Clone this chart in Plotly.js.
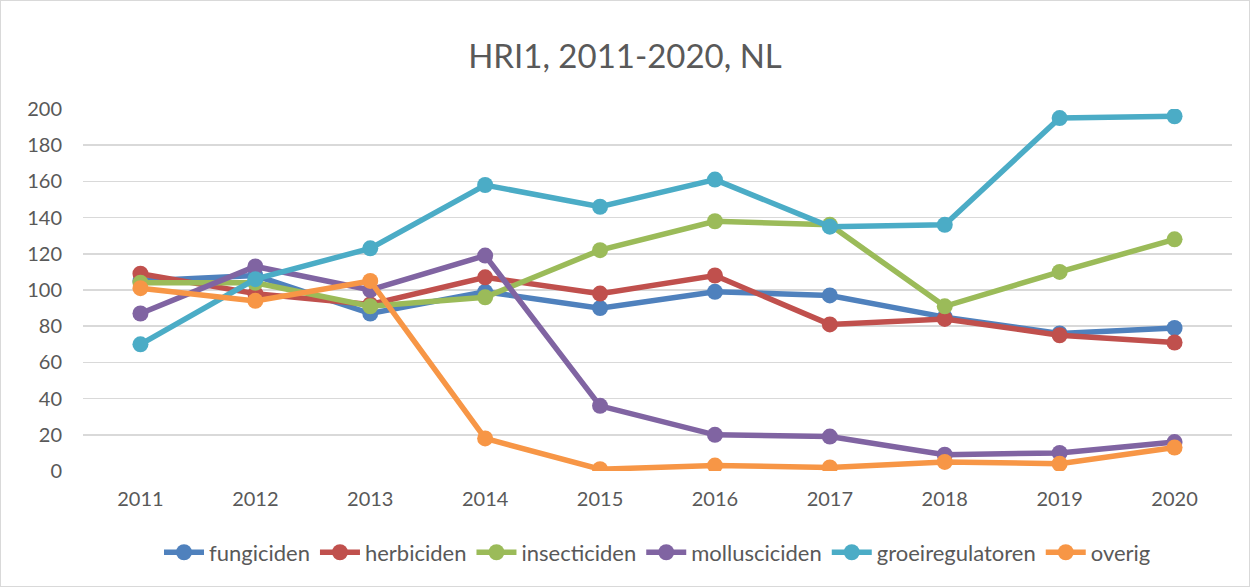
<!DOCTYPE html>
<html><head><meta charset="utf-8">
<script src="https://cdn.plot.ly/plotly-3.0.1.min.js"></script>
<style>html,body{margin:0;padding:0;background:#fff;}#chart{width:1250px;height:587px;box-sizing:border-box;border:1px solid #d9d9d9;}</style>
</head><body><div id="chart"></div>
<script>
const years = ['2011','2012','2013','2014','2015','2016','2017','2018','2019','2020'];
const fungiciden = [105,108,87,99,90,99,97,85,76,79];
const herbiciden = [109,98,92,107,98,108,81,84,75,71];
const insecticiden = [104,104,91,96,122,138,136,91,110,128];
const molluscicide = [87,113,100,119,36,20,19,9,10,16];
const groeiregulatoren = [70,106,123,158,146,161,135,136,195,196];
const overig = [101,94,105,18,1,3,2,5,4,13];
const names = ['fungiciden','herbiciden','insecticiden','molluscicide'+'n','groeiregulatoren','overig'];
const series = [fungiciden,herbiciden,insecticiden,molluscicide,groeiregulatoren,overig];
const colors = ['#4F81BD','#C0504D','#9BBB59','#8064A2','#4BACC6','#F79646'];
const traces = series.map((s,i)=>({
  x: years, y: s, name: names[i], type:'scatter', mode:'lines+markers',
  line:{color:colors[i], width:5.5}, marker:{color:colors[i], size:16}
}));
const font = "Lato, 'Open Sans', sans-serif";
Plotly.newPlot('chart', traces, {
  width:1248, height:585,
  margin:{l:82, r:17, t:108, b:113},
  paper_bgcolor:'#fff', plot_bgcolor:'#fff',
  font:{family:font, color:'#595959', size:20},
  title:{text:'HRI1, 2011-2020, NL', x:0.5, xanchor:'center', y:0.905, yanchor:'middle', font:{size:33, color:'#595959', family:font}},
  xaxis:{type:'category', range:[-0.5,9.5], showgrid:false, zeroline:false, showline:false, ticks:'', ticklabelstandoff:14, tickfont:{size:20}},
  yaxis:{range:[0,200], dtick:20, showgrid:true, gridcolor:'#d9d9d9', gridwidth:1.5, zeroline:false, showline:false, ticks:'', ticklabelstandoff:20, tickfont:{size:20}},
  legend:{orientation:'h', x:0.5, xanchor:'center', y:-0.225, yanchor:'middle', font:{size:22}, itemwidth:40, tracegroupgap:0},
  showlegend:true
}, {displayModeBar:false, staticPlot:true});
</script></body></html>
